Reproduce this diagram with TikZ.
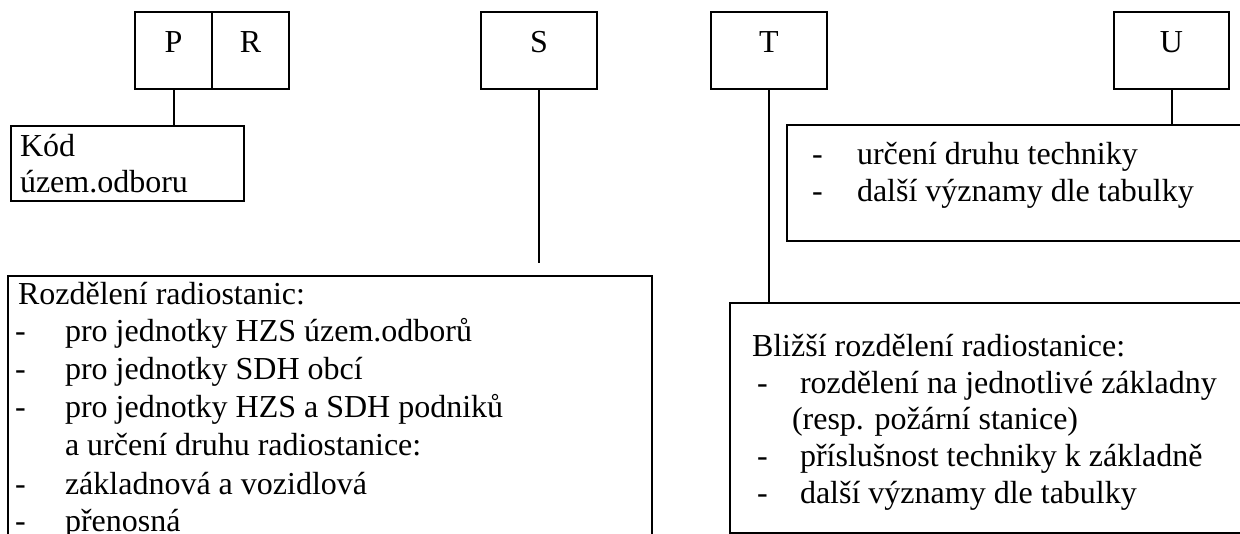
\documentclass[tikz,border=0pt]{standalone}
\usepackage{fontspec}
\setmainfont{Liberation Serif}
\usetikzlibrary{calc}
\begin{document}
\begin{tikzpicture}[x=1pt,y=-1pt,
  box/.style={draw, line width=2pt, inner sep=0pt, outer sep=0pt, anchor=north west},
  lbl/.style={font=\fontsize{32}{38}\selectfont, inner sep=0pt, outer sep=0pt, anchor=base west},
  letter/.style={lbl, anchor=base},
  link/.style={line width=2pt}]
\useasboundingbox (0,0) rectangle (1240,534);
\clip (0,0) rectangle (1240,534);

% code boxes in the top row
\node[box, minimum width=77pt, minimum height=77pt] (P) at (135,12) {};
\node[box, minimum width=77pt, minimum height=77pt] (R) at (212,12) {};
\node[box, minimum width=116pt, minimum height=77pt] (S) at (481,12) {};
\node[box, minimum width=116pt, minimum height=77pt] (T) at (711,12) {};
\node[box, minimum width=115pt, minimum height=77pt] (U) at (1114,12) {};

\node[letter] (Pl) at ($(P.north)+(0,41)$) {P};
\node[letter] (Rl) at ($(R.north)+(0,41)$) {R};
\node[letter] (Sl) at ($(S.north)+(0,41)$) {S};
\node[letter] (Tl) at ($(T.north)+(0,41)$) {T};
\node[letter] (Ul) at ($(U.north)+(0,41)$) {U};

% description boxes
\node[box, minimum width=233pt, minimum height=75pt] (kod) at (11,126) {};
\node[box, minimum width=644pt, minimum height=300pt] (rozd) at (8,276) {};
\node[box, minimum width=480pt, minimum height=116pt] (urc) at (787,125) {};
\node[box, minimum width=520pt, minimum height=230pt] (bliz) at (730,303) {};

% texts of the boxes
\node[lbl] (k1) at (20,157) {Kód};
\node[lbl] (k2) at (20,193) {územ.odboru};

\node[lbl] (r0) at (18,305) {Rozdělení radiostanic:};
\node[lbl] (r1d) at (15,342) {-};
\node[lbl] (r1) at (65,342) {pro jednotky HZS územ.odborů};
\node[lbl] (r2d) at (15,380) {-};
\node[lbl] (r2) at (65,380) {pro jednotky SDH obcí};
\node[lbl] (r3d) at (15,418) {-};
\node[lbl] (r3) at (65,418) {pro jednotky HZS a SDH podniků};
\node[lbl] (r4) at (65,456) {a určení druhu radiostanice:};
\node[lbl] (r5d) at (15,494) {-};
\node[lbl] (r5) at (65,494) {základnová a vozidlová};
\node[lbl] (r6d) at (15,531) {-};
\node[lbl] (r6) at (65,531) {přenosná};

\node[lbl] (u1d) at (812,165) {-};
\node[lbl] (u1) at (857,165) {určení druhu techniky};
\node[lbl] (u2d) at (812,202) {-};
\node[lbl] (u2) at (857,202) {další významy dle tabulky};

\node[lbl] (b0) at (752,357) {Bližší rozdělení radiostanice:};
\node[lbl] (b1d) at (757,394) {-};
\node[lbl] (b1) at (800,394) {rozdělení na jednotlivé základny};
\node[lbl] (b2) at (792,430) {(resp. požární stanice)};
\node[lbl] (b3d) at (757,467) {-};
\node[lbl] (b3) at (800,467) {příslušnost techniky k základně};
\node[lbl] (b4d) at (757,503) {-};
\node[lbl] (b4) at (800,503) {další významy dle tabulky};

% connectors
\coordinate (sEnd) at (539,263);
\draw[link] (P.south) -- (P.south |- kod.north);
\draw[link] (S.south) -- (sEnd);
\draw[link] (T.south) -- (T.south |- bliz.north);
\draw[link] (U.south) -- (U.south |- urc.north);
\end{tikzpicture}
\end{document}
